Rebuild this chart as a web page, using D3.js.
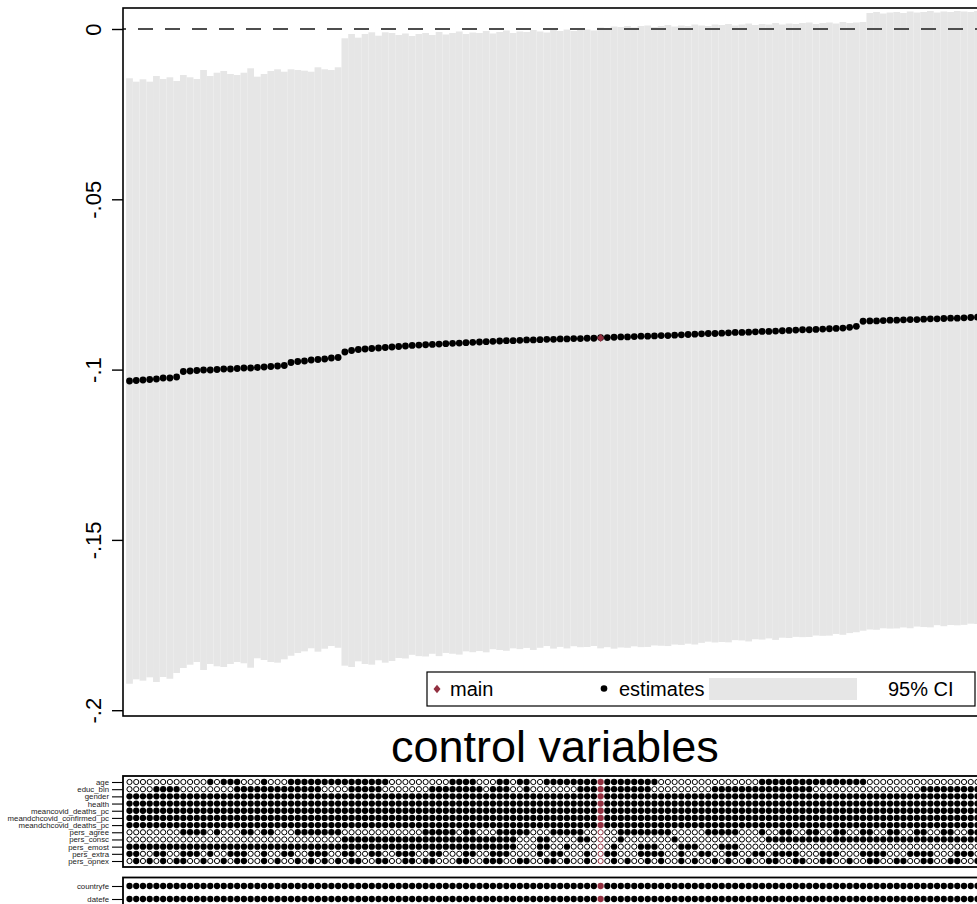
<!DOCTYPE html>
<html>
<head>
<meta charset="utf-8">
<script src="https://cdnjs.cloudflare.com/ajax/libs/d3/7.8.5/d3.min.js"></script>
<style>
  body { margin: 0; overflow: hidden; background: #fff; }
  svg { font-family: "Liberation Sans", Arial, Helvetica, sans-serif; }
</style>
</head>
<body>
<svg id="chart" width="1000" height="904"></svg>
<script>
// estimates, sorted (one per specification)
var estimates = [
  -0.10335,-0.10320,-0.10305,-0.10291,-0.10276,-0.10247,-0.10247,-0.10217,
  -0.10056,-0.10041,-0.10026,-0.10012,-0.10012,-0.09997,-0.09982,-0.09982,
  -0.09968,-0.09953,-0.09953,-0.09938,-0.09924,-0.09909,-0.09894,-0.09880,
  -0.09792,-0.09762,-0.09748,-0.09718,-0.09703,-0.09689,-0.09659,-0.09645,
  -0.09483,-0.09439,-0.09410,-0.09395,-0.09380,-0.09366,-0.09351,-0.09336,
  -0.09322,-0.09307,-0.0929,-0.0928,-0.0927,-0.0926,-0.0925,-0.0924,
  -0.0923,-0.0922,-0.0921,-0.0920,-0.0919,-0.0918,-0.0917,-0.0916,
  -0.0915,-0.0915,-0.0914,-0.0913,-0.0913,-0.0912,-0.0911,-0.0911,
  -0.0910,-0.0910,-0.0909,-0.0909,-0.0908,-0.0908,-0.0907,-0.0906,
  -0.0906,-0.0905,-0.0904,-0.0904,-0.0903,-0.0902,-0.0902,-0.0901,
  -0.0900,-0.0900,-0.0899,-0.0898,-0.0897,-0.0896,-0.0895,-0.0894,
  -0.0894,-0.0893,-0.0892,-0.0891,-0.0891,-0.0890,-0.0889,-0.0888,
  -0.0888,-0.0887,-0.0886,-0.0885,-0.0884,-0.0883,-0.0883,-0.0882,
  -0.0881,-0.0880,-0.0879,-0.0878,-0.0876,-0.0873,-0.0858,-0.0857,
  -0.0857,-0.0856,-0.0855,-0.0855,-0.0854,-0.0853,-0.0853,-0.0852,
  -0.0851,-0.0851,-0.0850,-0.0849,-0.0849,-0.0848,-0.0847,-0.0846
];

// 95% CI upper bounds
var ciUpper = [
  -0.01447,-0.01547,-0.01477,-0.01547,-0.01380,-0.01468,-0.01418,-0.01527,
  -0.01351,-0.01418,-0.01468,-0.01204,-0.01380,-0.01283,-0.01233,-0.01321,
  -0.01351,-0.01283,-0.01154,-0.01400,-0.01321,-0.01233,-0.01183,-0.01254,
  -0.01183,-0.01204,-0.01224,-0.01254,-0.01124,-0.01183,-0.01204,-0.01124,
  -0.00273,-0.00147,-0.00255,-0.00147,-0.00097,-0.00197,-0.00097,-0.00117,
  -0.00176,-0.00132,-0.00206,-0.00147,-0.00117,-0.00176,-0.00088,-0.00161,
  -0.00117,-0.00073,-0.00147,-0.00103,-0.00117,-0.00059,-0.00132,-0.00088,
  -0.00044,-0.00117,-0.00073,-0.00088,-0.00029,-0.00073,-0.00103,-0.00029,
  -0.00059,-0.00015,-0.00059,-0.00029,-0.00015,-0.00044,0.00044,0.00029,
  0.00073,0.00059,0.00088,0.00044,0.00088,0.00103,0.00059,0.00088,
  0.00117,0.00073,0.00103,0.00088,0.00132,0.00103,0.00088,0.00132,
  0.00117,0.00147,0.00103,0.00132,0.00161,0.00117,0.00147,0.00132,
  0.00176,0.00132,0.00161,0.00147,0.00176,0.00191,0.00147,0.00176,
  0.00191,0.00161,0.00206,0.00176,0.00191,0.00206,0.00470,0.00499,
  0.00455,0.00484,0.00499,0.00470,0.00514,0.00484,0.00499,0.00528,
  0.00484,0.00514,0.00499,0.00528,0.00514,0.00499,0.00528,0.00514
];

// 95% CI lower bounds
var ciLower = [
  -0.19223,-0.19093,-0.19133,-0.19035,-0.19172,-0.19026,-0.19076,-0.18907,
  -0.18761,-0.18664,-0.18584,-0.18820,-0.18644,-0.18711,-0.18731,-0.18643,
  -0.18585,-0.18623,-0.18752,-0.18476,-0.18527,-0.18585,-0.18605,-0.18506,
  -0.18401,-0.18320,-0.18272,-0.18182,-0.18282,-0.18195,-0.18114,-0.18166,
  -0.18693,-0.18731,-0.18565,-0.18643,-0.18663,-0.18535,-0.18605,-0.18555,
  -0.18468,-0.18482,-0.18374,-0.18413,-0.18423,-0.18344,-0.18412,-0.18319,
  -0.18343,-0.18367,-0.18273,-0.18297,-0.18263,-0.18301,-0.18208,-0.18232,
  -0.18256,-0.18183,-0.18207,-0.18172,-0.18231,-0.18167,-0.18117,-0.18191,
  -0.18141,-0.18185,-0.18121,-0.18151,-0.18145,-0.18116,-0.18184,-0.18149,
  -0.18193,-0.18159,-0.18168,-0.18124,-0.18148,-0.18143,-0.18099,-0.18108,
  -0.18117,-0.18073,-0.18083,-0.18048,-0.18072,-0.18023,-0.17988,-0.18012,
  -0.17997,-0.18007,-0.17943,-0.17952,-0.17981,-0.17917,-0.17927,-0.17892,
  -0.17936,-0.17872,-0.17881,-0.17847,-0.17856,-0.17851,-0.17807,-0.17816,
  -0.17811,-0.17761,-0.17786,-0.17736,-0.17711,-0.17666,-0.17630,-0.17639,
  -0.17595,-0.17604,-0.17599,-0.17570,-0.17594,-0.17544,-0.17559,-0.17568,
  -0.17504,-0.17534,-0.17499,-0.17508,-0.17494,-0.17459,-0.17468,-0.17434
];

var mainSpec = 70;

var yTicks = [0, -0.05, -0.1, -0.15, -0.2];
var yTickLabels = ["0", "-.05", "-.1", "-.15", "-.2"];

var legendLabels = ["main", "estimates", "95% CI"];

// control variable indicators, 1 = included (blocks of 8 specs)
var controlNames = ["age", "educ_bin", "gender", "health", "meancovid_deaths_pc",
  "meandchcovid_confirmed_pc", "meandchcovid_deaths_pc", "pers_agree",
  "pers_consc", "pers_emost", "pers_extra", "pers_opnex"];
var controlRows = [
  "00000000 00001011 10001000 11111111 11111110 00000000 11110001 10110011 11111111 11111110 00000000 00000011 11111111 11111100 00000000 00000000",
  "00001111 00000000 11111111 11111000 01111100 00000111 11111011 10010000 00011111 11111100 00000001 11111111 11111100 00000000 00000011 11111111",
  "11111111 11111111 11111111 11111111 11111111 11111111 11111111 11111111 11111111 11111111 11111111 11111111 11111111 11111111 11111111 11111111",
  "11111111 11111111 11111111 11111111 11111111 11111111 11111111 11111111 11111111 11111111 11111111 11111111 11111111 11111111 11111111 11111111",
  "11111111 11111111 11111111 11111111 11111111 11111111 11111111 11111111 11111111 11111111 11111111 11111111 11111111 11111111 11111111 11111111",
  "11111111 11111111 11111111 11111111 11111111 11111111 11111111 11111111 11111111 11111111 11111111 11111111 11111111 11111111 11111111 11111111",
  "11111111 11111111 11111111 11111111 11111111 11111111 11111111 11111111 11111111 11111111 11111111 11111111 11111111 11111111 11111111 11111111",
  "00000000 11110100 01101100 01111111 00000000 00001111 10110001 11110001 11110000 01111111 10000011 11100010 01100110 01100110 01100110 01100110",
  "00000000 00000000 00000000 00000000 11111111 11111111 11111111 11000110 00011000 01000000 01000000 00000001 11111111 11111111 11111111 11111111",
  "11111111 11111111 11111111 11111111 11111111 11111111 11111111 11000110 01000000 10001110 00111000 11100000 00000000 00000000 00000000 00000000",
  "11001100 11101001 11001001 10011100 11001100 11100110 00110011 10000101 10001001 10001111 00100110 01100110 11110001 11000111 10001111 00011100",
  "01010101 10010010 11001010 01010101 01100110 01101100 01100111 00110011 01001000 10100101 00101001 01001001 10011001 10010011 00110011 00110011"
];

var feNames = ["countryfe", "datefe"];
var feRows = [
  "11111111 11111111 11111111 11111111 11111111 11111111 11111111 11111111 11111111 11111111 11111111 11111111 11111111 11111111 11111111 11111111",
  "11111111 11111111 11111111 11111111 11111111 11111111 11111111 11111111 11111111 11111111 11111111 11111111 11111111 11111111 11111111 11111111"
];

var mainColor = "#923040";
var ciColor = "#e6e6e6";

var svg = d3.select("#chart");
var n = estimates.length;
var step = 6.73;

var x = d3.scaleLinear().domain([0, n - 1]).range([129.5, 129.5 + (n - 1) * step]);
var y = d3.scaleLinear().domain([0, -0.2]).range([29, 710.2]);

var plotLeft = 123, plotRight = x(n - 1) + 6.5;

// CI bars
svg.append("g").selectAll("rect").data(estimates)
  .enter().append("rect")
  .attr("x", (d, i) => x(i) - step / 2)
  .attr("width", step)
  .attr("y", (d, i) => y(ciUpper[i]))
  .attr("height", (d, i) => y(ciLower[i]) - y(ciUpper[i]))
  .attr("fill", ciColor);

// zero line
svg.append("line")
  .attr("x1", plotLeft).attr("x2", plotRight)
  .attr("y1", y(0)).attr("y2", y(0))
  .attr("stroke", "#4d4d4d").attr("stroke-width", 1.8)
  .attr("stroke-dasharray", "15,12").attr("stroke-dashoffset", -15);

// estimates
svg.append("g").selectAll("circle").data(estimates)
  .enter().filter((d, i) => i !== mainSpec).append("circle")
  .attr("cx", (d, i) => x(i))
  .attr("cy", d => y(d))
  .attr("r", 3.4)
  .attr("fill", "#000");

function diamond(cx, cy, w, h) {
  return "M" + cx + "," + (cy - h) + "L" + (cx + w) + "," + cy + "L" + cx + "," + (cy + h) + "L" + (cx - w) + "," + cy + "Z";
}

svg.append("path")
  .attr("d", diamond(x(mainSpec), y(estimates[mainSpec]), 3.5, 4.2))
  .attr("fill", mainColor);

// axis
var yAxis = d3.axisLeft(y).tickValues(yTicks)
  .tickFormat((d, i) => yTickLabels[i]).tickSize(11).tickPadding(0);
var ax = svg.append("g").attr("transform", "translate(" + plotLeft + ",0)").call(yAxis);
ax.select(".domain").remove();
ax.selectAll(".tick line").attr("stroke", "#000").attr("stroke-width", 1.4);
ax.selectAll(".tick text")
  .attr("x", 0).attr("dy", 0)
  .attr("transform", "translate(-22,0) rotate(-90)")
  .attr("text-anchor", "middle")
  .attr("font-size", 22).attr("fill", "#000");

// plot frame
svg.append("rect")
  .attr("x", plotLeft).attr("y", 8)
  .attr("width", plotRight - plotLeft).attr("height", 708)
  .attr("fill", "none").attr("stroke", "#000").attr("stroke-width", 1.6);

// legend
var lg = svg.append("g");
lg.append("rect").attr("x", 427).attr("y", 672).attr("width", 548).attr("height", 34)
  .attr("fill", "#fff").attr("stroke", "#000").attr("stroke-width", 1.2);
lg.append("path").attr("d", diamond(437, 689, 3.5, 4.2)).attr("fill", mainColor);
lg.append("circle").attr("cx", 604).attr("cy", 688.5).attr("r", 3.3).attr("fill", "#000");
lg.append("rect").attr("x", 709).attr("y", 678).attr("width", 148).attr("height", 22).attr("fill", ciColor);
lg.selectAll("text").data(legendLabels).enter().append("text")
  .attr("x", (d, i) => [450, 619, 888][i])
  .attr("y", 696)
  .attr("font-size", 20)
  .text(d => d);

// title of the lower panel
svg.append("text")
  .attr("x", (plotLeft + plotRight) / 2 - 2).attr("y", 762)
  .attr("text-anchor", "middle").attr("font-size", 45)
  .text("control variables");

function drawMatrix(names, rows, top, rowY, height) {
  var g = svg.append("g");
  var yr = d3.scalePoint().domain(names).range(rowY);
  var cells = [];
  rows.forEach(function(r, ri) {
    r.replace(/ /g, "").split("").forEach(function(c, ci) {
      cells.push({ row: names[ri], col: ci, on: c === "1" });
    });
  });
  g.selectAll("circle").data(cells).enter().append("circle")
    .attr("cx", d => x(d.col))
    .attr("cy", d => yr(d.row))
    .attr("r", d => d.on ? 3.15 : 2.6)
    .attr("fill", d => d.on ? (d.col === mainSpec ? mainColor : "#000") : "#fff")
    .attr("stroke", d => d.on ? "none" : (d.col === mainSpec ? mainColor : "#000"))
    .attr("stroke-width", 1);
  var axis = d3.axisLeft(yr).tickSize(11).tickPadding(3);
  var a = g.append("g").attr("transform", "translate(" + plotLeft + ",0)").call(axis);
  a.select(".domain").remove();
  a.selectAll(".tick line").attr("stroke", "#000").attr("stroke-width", 1.1);
  a.selectAll(".tick text").attr("font-size", 7.8).attr("fill", "#222");
  g.append("rect").attr("x", plotLeft).attr("y", top)
    .attr("width", plotRight - plotLeft).attr("height", height)
    .attr("fill", "none").attr("stroke", "#000").attr("stroke-width", 1.8);
}

drawMatrix(controlNames, controlRows, 776, [782, 861], 91);
drawMatrix(feNames, feRows, 877.5, [886, 899], 34);
</script>
</body>
</html>
